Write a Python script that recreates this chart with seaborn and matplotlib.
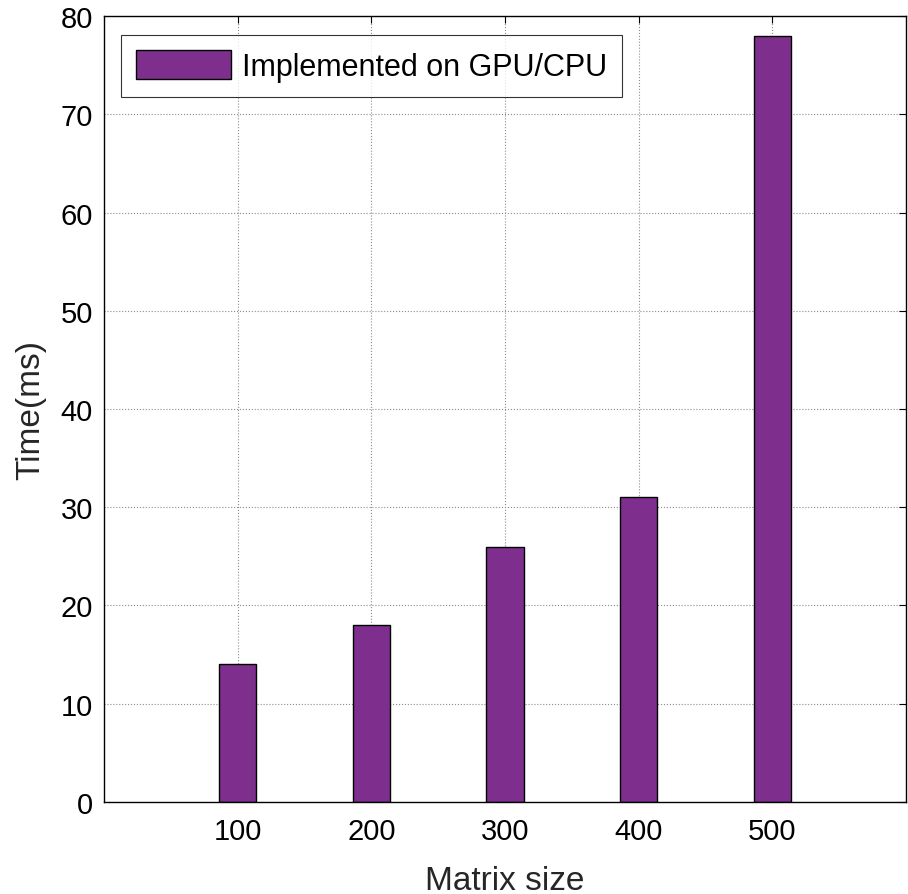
import matplotlib
matplotlib.use("Agg")
import matplotlib.pyplot as plt
import seaborn as sns
import pandas as pd

# values
sizes = ["100", "200", "300", "400", "500"]
times = [14, 18, 26, 31, 78]
series = "Implemented on GPU/CPU"

sns.set_style("white")
plt.rcParams['font.family'] = ['Liberation Sans', 'DejaVu Sans']

df = pd.DataFrame({"size": sizes, "time": times, "method": [series] * len(sizes)})

fig = plt.figure(figsize=(9.08, 8.95), dpi=100)
ax = fig.add_axes([0.1145, 0.1028, 0.8835, 0.8782])

sns.barplot(data=df, x="size", y="time", hue="method", palette=["#7E2F8E"],
            width=0.28, edgecolor="black", linewidth=1.0, saturation=1, ax=ax)

ax.set_xlim(-1, 5)
ax.set_ylim(0, 80)
ax.set_yticks(range(0, 81, 10))
ax.set_axisbelow(True)
ax.grid(True, color="#8c8c8c", linestyle=":", linewidth=0.8)
ax.tick_params(direction="in", length=5, top=True, right=True, labelsize=21,
               labelcolor="black", color="black")
ax.tick_params(axis="x", pad=11)
ax.tick_params(axis="y", pad=8)
for s in ax.spines.values():
    s.set_color("black")
    s.set_linewidth(1.0)

ax.set_xlabel("Matrix size", fontsize=24, labelpad=14, color="#262626")
ax.set_ylabel("Time(ms)", fontsize=24, labelpad=10, color="#262626")

leg = ax.legend(loc="upper left", bbox_to_anchor=(0.021, 0.976), borderaxespad=0,
                fontsize=22, frameon=True, fancybox=False, edgecolor="black",
                handlelength=3.1, handleheight=1.1, handletextpad=0.35,
                borderpad=0.5)
leg.get_frame().set_linewidth(0.8)
for t in leg.get_texts():
    t.set_color("black")

fig.savefig("out.png", dpi=100)
